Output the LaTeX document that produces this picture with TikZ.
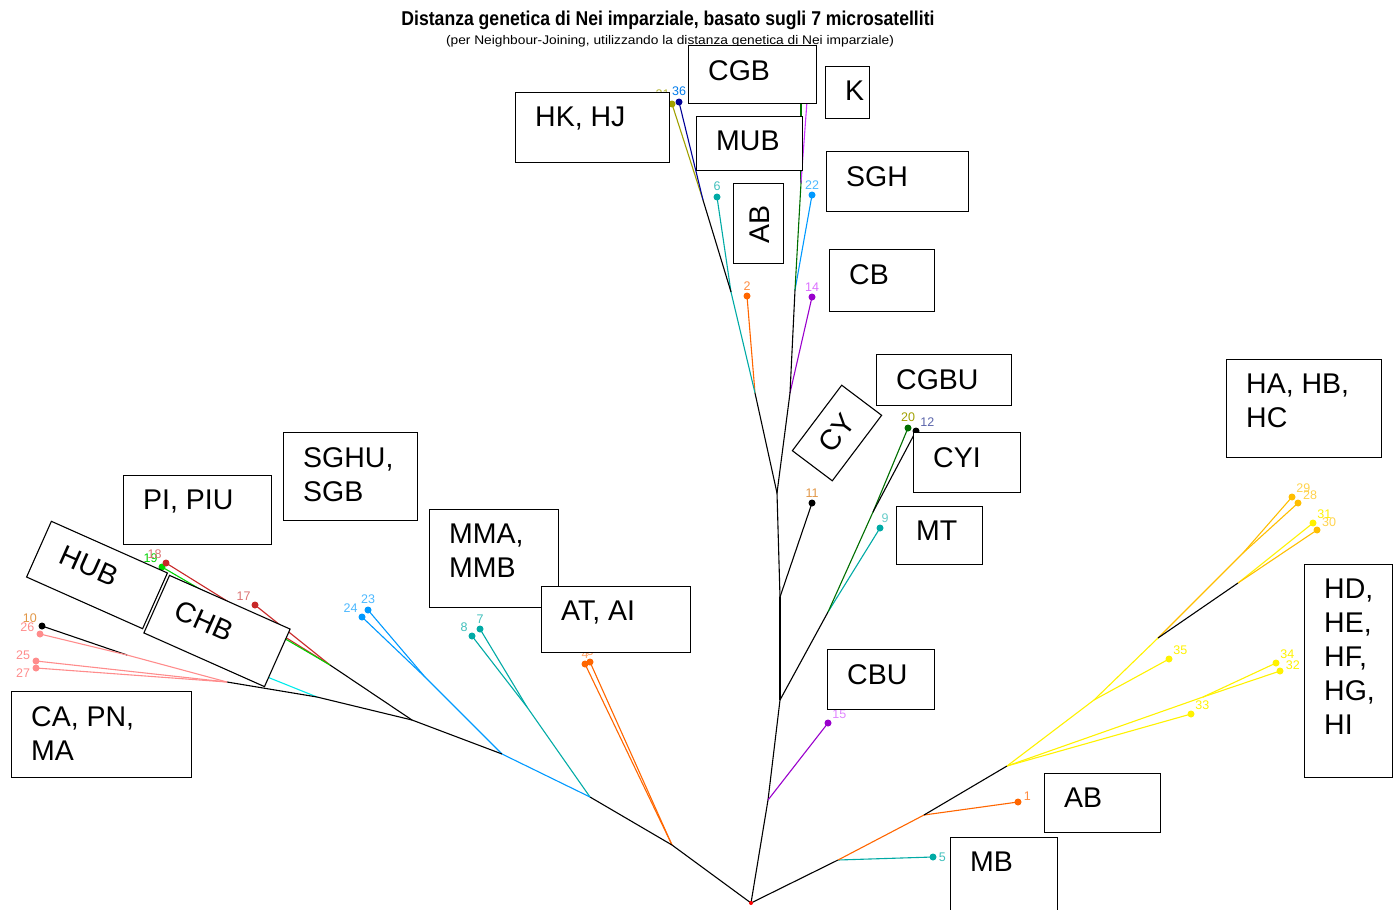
\documentclass[tikz,border=0pt]{standalone}
\usepackage{fontspec}
\setmainfont{Liberation Sans}

\definecolor{tipteal}{RGB}{0,170,165}
\definecolor{tiporange}{RGB}{255,102,0}
\definecolor{tipblue}{RGB}{0,153,255}
\definecolor{tippurple}{RGB}{153,0,204}
\definecolor{tipmagenta}{RGB}{204,51,255}
\definecolor{tipdkgreen}{RGB}{0,110,0}
\definecolor{tipred}{RGB}{200,40,40}
\definecolor{tippink}{RGB}{255,140,140}
\definecolor{tipyellow}{RGB}{255,242,0}
\definecolor{tipgold}{RGB}{255,190,0}
\definecolor{tipnavy}{RGB}{0,0,150}
\definecolor{tipolive}{RGB}{160,160,0}
\definecolor{tipgreen}{RGB}{0,210,0}
\definecolor{tipcyan}{RGB}{0,235,235}
\definecolor{tiptan}{RGB}{225,150,70}
\definecolor{tipslate}{RGB}{90,100,170}

\begin{document}
\begin{tikzpicture}[x=1pt,y=-1pt,
    edge/.style={line width=1.1pt},
    tip/.style={circle,inner sep=0pt,minimum size=7pt},
    tiplab/.style={font=\fontsize{12.5}{12.5}\selectfont,inner sep=0.5pt},
    namebox/.style={draw,fill=white,line width=1.1pt,anchor=north west,inner sep=0pt},
    boxtext/.style={font=\fontsize{28.5}{34}\selectfont,align=left,anchor=north west,inner sep=0pt}]
    \useasboundingbox (0,0) rectangle (1393,910);
    %% title
    \node[font=\bfseries\fontsize{20}{20}\selectfont] (title) at (668,20)
        {\scalebox{0.88}[1]{Distanza genetica di Nei imparziale, basato sugli 7 microsatelliti}};
    \node[font=\fontsize{12.5}{12.5}\selectfont] (subtitle) at (670,41)
        {\scalebox{1.1}[1]{(per Neighbour-Joining, utilizzando la distanza genetica di Nei imparziale)}};
    %% inner nodes
    \foreach \n/\x/\y in {root/751/903, up1/768/800, up2/780/700, up3/780/597, up4/777/493,
        ul1/755/393, ul2/731/292, ul3/703/200, ur1/790/393, ur2/795/290, ur3/801/183,
        um1/828/612, um2/873/512,
        lf1/672/845, lf2/590/797, lf3/527/707, lf4/502/754, lf5/425/677, lf6/412/720,
        lf7/330/665, lf8/317/697, lf9/227/682, lf10/127/655,
        rt1/838/860, rt2/924/815, rt3/1007/766, rt4/1094/700, rt5/1158/638,
        rt6/1243/553, rt7/1238/583, rt8/1203/697}
        \coordinate (\n) at (\x,\y);
    %% tips
    \foreach \n/\x/\y in {1/1018/802, 2/747/296, 3/590/662, 4/585/664, 5/933/857,
        6/717/197, 7/480/629, 8/472/636, 9/880/528, 10/42/626, 11/812/503, 12/916/431,
        13/801/72, 14/812/297, 15/828/723, 16/809/74, 17/255/605, 18/166/563, 19/162/567,
        20/908/428, 21/672/104, 22/812/195, 23/368/610, 24/362/617, 25/36/661, 26/40/634,
        27/36/668, 28/1298/503, 29/1292/497, 30/1317/530, 31/1313/523, 32/1280/671,
        33/1191/714, 34/1276/663, 35/1169/659, 36/679/102, 37/225/660}
        \coordinate (p\n) at (\x,\y);
    %% branches
    \foreach \a/\b/\c in {root/up1/black, up1/up2/black, up2/up3/black, up3/up4/black,
        up1/p15/tippurple, up2/um1/black, um1/p9/tipteal, um1/um2/tipdkgreen,
        um2/p20/tipdkgreen, um2/p12/black, up3/p11/black,
        up4/ul1/black, ul1/p2/tiporange, ul1/ul2/tipteal, ul2/p6/tipteal, ul2/ul3/black,
        ul3/p21/tipolive, ul3/p36/tipnavy,
        up4/ur1/black, ur1/p14/tippurple, ur1/ur2/black, ur2/p22/tipblue,
        ur2/ur3/tipdkgreen, ur3/p13/tipdkgreen, ur3/p16/tipmagenta,
        root/lf1/black, lf1/p3/tiporange, lf1/p4/tiporange, lf1/lf2/black,
        lf2/lf3/tipteal, lf3/p7/tipteal, lf3/p8/tipteal, lf2/lf4/tipblue,
        lf4/lf5/tipblue, lf5/p23/tipblue, lf5/p24/tipblue, lf4/lf6/black,
        lf6/lf7/black, lf7/p17/tipred, lf7/p18/tipred, lf7/p19/tipgreen,
        lf6/lf8/black, lf8/p37/tipcyan, lf8/lf9/black, lf9/lf10/tippink,
        lf10/p10/black, lf10/p26/tippink, lf9/p25/tippink, lf9/p27/tippink,
        root/rt1/black, rt1/p5/tipteal, rt1/rt2/tiporange, rt2/p1/tiporange,
        rt2/rt3/black, rt3/rt4/tipyellow, rt4/p35/tipyellow, rt4/rt5/tipyellow,
        rt5/rt6/tipgold, rt6/p29/tipgold, rt6/p28/tipgold, rt5/rt7/black,
        rt7/p31/tipyellow, rt7/p30/tipgold, rt3/rt8/tipyellow, rt8/p34/tipyellow,
        rt8/p32/tipyellow, rt3/p33/tipyellow}
        \draw[edge,\c] (\a) -- (\b);
    \node[tip,fill=red,minimum size=4pt] (rootdot) at (root) {};
    %% tip dots with their numbers
    \foreach \n/\c/\lc/\pos in {1/tiporange/tiporange!75/10, 2/tiporange/tiporange!75/90,
        3/tiporange/tiporange!60/90, 4/tiporange/tiporange!60/90, 5/tipteal/tipteal!75/0,
        6/tipteal/tipteal!75/90, 7/tipteal/tipteal!75/90, 8/tipteal/tipteal!75/135,
        9/tipteal/tipteal!60/80, 10/black/tiptan/150, 11/black/tiptan/90,
        12/black/tipslate/45, 14/tippurple/tipmagenta!70/90, 15/tippurple/tipmagenta!60/45,
        19/tipgreen/tipgreen/135, 17/tipred/tipred!65/135, 18/tipred/tipred!65/135,
        20/tipdkgreen/tipolive/90, 21/tipolive/tipolive!80/110, 22/tipblue/tipblue!70/90,
        23/tipblue/tipblue!70/90, 24/tipblue/tipblue!70/135, 25/tippink/tippink/175,
        26/tippink/tippink/165, 27/tippink/tippink/185, 28/tipgold/tipgold!70/30,
        29/tipgold/tipgold!70/45, 30/tipgold/tipgold!70/30, 31/tipyellow/tipyellow/45,
        32/tipyellow/tipyellow/10, 33/tipyellow/tipyellow/45, 34/tipyellow/tipyellow/45,
        35/tipyellow/tipyellow/45, 36/tipnavy/tipblue!80!tipnavy/90}
        \node[tip,fill=\c,label={[tiplab,text=\lc,label distance=1.5pt]\pos:\n}] (d\n) at (p\n) {};
    %% name boxes
    \foreach \nm/\bx/\by/\bw/\bh/\txt in {CGB/688/45/128/58/{CGB}, K/825/66/44/52/{K},
        HKHJ/515/92/154/70/{HK, HJ}, MUB/696/116/106/54/{MUB}, SGH/826/151/142/60/{SGH},
        CB/829/249/105/62/{CB}, CGBU/876/354/135/51/{CGBU}, CYI/913/432/107/60/{CYI},
        MT/896/506/86/58/{MT}, HABC/1226/359/155/98/{HA, HB,\\HC},
        HDI/1304/564/88/213/{HD,\\HE,\\HF,\\HG,\\HI}, CBU/827/649/107/60/{CBU},
        ABr/1044/773/116/59/{AB}, MB/950/837/107/80/{MB}, MMAB/429/509/129/98/{MMA,\\MMB},
        ATAI/541/586/149/66/{AT, AI}, SGHU/283/432/134/88/{SGHU,\\SGB},
        PIU/123/475/148/69/{PI, PIU}, CAMA/11/691/180/86/{CA, PN,\\MA}, ABv/733/183/50/80/{}}
    {
        \node[namebox,minimum width=\bw,minimum height=\bh] (b\nm) at (\bx,\by) {};
        \node[boxtext] (t\nm) at ([shift={(20,15)}]b\nm.north west) {\txt};
    }
    %% turned boxes
    \node[boxtext,anchor=center,rotate=90] (tABvert) at (760,224) {AB};
    \node[namebox,anchor=center,rotate=53,minimum width=82,minimum height=50] (bCY) at (837,433) {};
    \node[boxtext,anchor=center,rotate=53] (tCY) at (837,433) {CY};
    \node[namebox,anchor=center,rotate=-24,minimum width=127,minimum height=61] (bHUB) at (97,575) {};
    \node[boxtext,anchor=center,rotate=-24] (tHUB) at (89,566) {HUB};
    \node[namebox,anchor=center,rotate=-24,minimum width=132,minimum height=63] (bCHB) at (217,631) {};
    \node[boxtext,anchor=center,rotate=-24] (tCHB) at (204,621) {CHB};
\end{tikzpicture}
\end{document}
